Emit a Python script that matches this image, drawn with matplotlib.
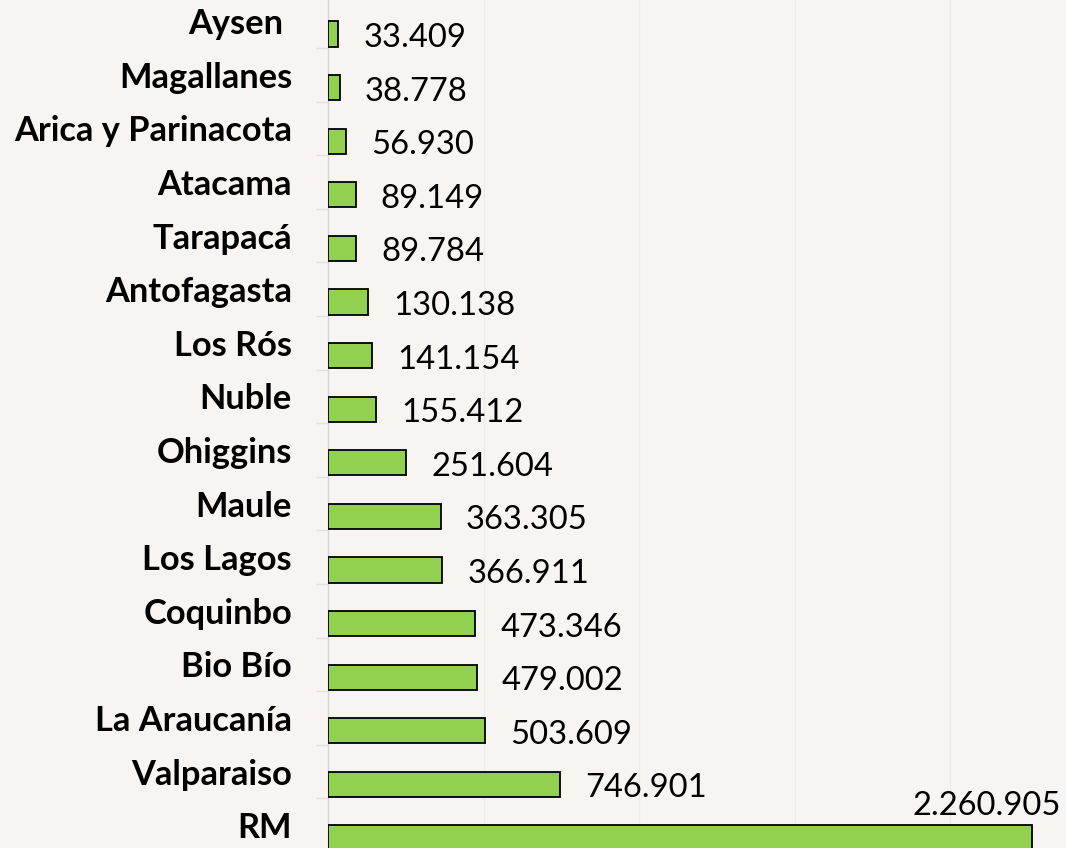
import matplotlib
matplotlib.use("Agg")
import matplotlib.pyplot as plt
from matplotlib.ticker import FixedLocator

regions = ["Aysen ", "Magallanes", "Arica y Parinacota", "Atacama", "Tarapacá",
           "Antofagasta", "Los Rós", "Nuble", "Ohiggins", "Maule", "Los Lagos",
           "Coquinbo", "Bio Bío", "La Araucanía", "Valparaiso", "RM"]
values = [33409, 38778, 56930, 89149, 89784, 130138, 141154, 155412, 251604,
          363305, 366911, 473346, 479002, 503609, 746901, 2260905]
value_labels = [f"{v:,}".replace(",", ".") for v in values]

W, H, DPI = 1066, 848, 100
BG = "#F7F4F1"
GREEN = "#92D050"
PX = 72.0 / DPI  # points per pixel

fig = plt.figure(figsize=(W / DPI, H / DPI), dpi=DPI, facecolor=BG)

# fit font sizes to reference widths
def fit_size(text, target_px, weight, family):
    t = fig.text(0, 0, text, fontsize=20, fontweight=weight, family=family)
    r = fig.canvas.get_renderer()
    w = t.get_window_extent(renderer=r).width
    t.remove()
    return 20 * target_px / w

lab_family = ["Lato", "DejaVu Sans"]
lab_size = fit_size("Arica y Parinacota", 278, "bold", lab_family)
val_size = fit_size("2.260.905", 148, "normal", lab_family)

ax = fig.add_axes([328 / W, (H - 852) / H, 778 / W, 857.6 / H])
ax.set_facecolor(BG)

n = len(regions)
ypos = list(range(n))
offset = 0.24
bh = 0.47
bar_y = [y + offset for y in ypos]
ax.barh(bar_y, values, height=bh, color=GREEN, edgecolor="black", linewidth=1.3, zorder=3)

ax.set_xlim(0, 2500000)
ax.set_ylim(n - 0.5, -0.5)

ax.set_yticks(ypos)
ax.set_yticklabels(regions, fontsize=lab_size, fontweight="bold", family=lab_family)
ax.tick_params(axis="y", which="major", length=0, pad=36 * PX)
ax.yaxis.set_minor_locator(FixedLocator([y + 0.5 for y in ypos[:-1]] + [-0.5]))
ax.tick_params(axis="y", which="minor", length=12 * PX, color="#E2DEDA", width=1)
ax.set_xticks([])
ax.set_xticks([500000, 1000000, 1500000, 2000000], minor=True)
ax.tick_params(axis="x", which="minor", length=0)
ax.grid(axis="x", which="minor", color="#EFEBE7", linewidth=1, zorder=0)

for s in ["top", "right", "bottom"]:
    ax.spines[s].set_visible(False)
ax.spines["left"].set_color("#D6D3D0")
ax.spines["left"].set_linewidth(1)

for i, (v, lab) in enumerate(zip(values, value_labels)):
    if i == n - 1:
        ax.annotate(lab, xy=(v, bar_y[i] - bh / 2), xytext=(29 * PX, 19 * PX),
                    textcoords="offset points", ha="right", va="center",
                    fontsize=val_size, family=lab_family, zorder=4)
    else:
        ax.annotate(lab, xy=(v, bar_y[i]), xytext=(25 * PX, -4 * PX),
                    textcoords="offset points", ha="left", va="center",
                    fontsize=val_size, family=lab_family, zorder=4)

fig.savefig("out.png", dpi=DPI, facecolor=BG)
